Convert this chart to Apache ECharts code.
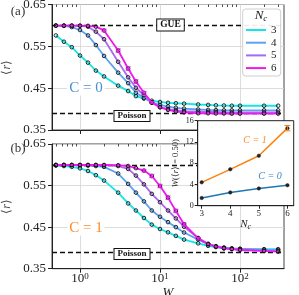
<!DOCTYPE html>
<html><head><meta charset="utf-8">
<script src="https://cdn.jsdelivr.net/npm/echarts@6/dist/echarts.min.js"></script>
<style>html,body{margin:0;padding:0;background:#fff}#c{width:299px;height:295px}</style>
</head><body><div id="c"></div>
<script>
// ---------------- data ----------------
const W = [0.5, 0.63, 0.79, 1, 1.26, 1.58, 2, 3, 4, 5, 6.3, 7.9, 10, 12.6, 15.8, 20, 30, 40, 50, 63, 79, 100, 200, 300];
const NC_NAMES = ['3', '4', '5', '6'];
// panel (a): C = 0
const rA3 = [0.576,0.561,0.548,0.528,0.511,0.492,0.478,0.456,0.443,0.431,0.425,0.420,0.417,0.415,0.414,0.413,0.411,0.410,0.409,0.4085,0.408,0.408,0.408,0.408];
const rA4 = [0.5995,0.599,0.596,0.589,0.576,0.553,0.527,0.487,0.462,0.439,0.427,0.416,0.410,0.406,0.403,0.401,0.399,0.398,0.3975,0.397,0.397,0.397,0.397,0.397];
const rA5 = [0.5995,0.5995,0.5995,0.599,0.597,0.585,0.567,0.513,0.476,0.451,0.433,0.415,0.405,0.400,0.397,0.395,0.394,0.393,0.393,0.392,0.392,0.392,0.392,0.392];
const rA6 = [0.5995,0.5995,0.5995,0.5995,0.599,0.597,0.588,0.540,0.497,0.466,0.439,0.416,0.404,0.398,0.394,0.392,0.390,0.390,0.3895,0.3895,0.389,0.389,0.389,0.389];
const eA6 = [0,0,0,0,0,0,0.003,0.004,0.004,0.004,0.003,0.002,0,0,0,0,0,0,0,0,0,0,0,0];
// panel (b): C = 1
const rB3 = [0.598,0.597,0.595,0.5915,0.585,0.575,0.562,0.533,0.507,0.490,0.472,0.456,0.4455,0.4375,0.429,0.420,0.411,0.405,0.402,0.399,0.398,0.3975,0.397,0.397];
const rB4 = [0.5995,0.5995,0.5995,0.599,0.598,0.597,0.595,0.579,0.554,0.533,0.512,0.490,0.475,0.462,0.450,0.437,0.420,0.409,0.404,0.401,0.399,0.398,0.396,0.395];
const rB5 = [0.5995,0.5995,0.5995,0.5995,0.5995,0.5995,0.599,0.597,0.590,0.574,0.553,0.530,0.510,0.490,0.471,0.451,0.424,0.410,0.404,0.400,0.398,0.396,0.393,0.392];
const rB6 = [0.5995,0.5995,0.5995,0.5995,0.5995,0.5995,0.5995,0.599,0.597,0.592,0.586,0.573,0.549,0.521,0.489,0.457,0.423,0.409,0.403,0.399,0.397,0.395,0.393,0.391];
const eB6 = [0,0,0,0,0,0,0,0,0,0,0.003,0.004,0.004,0.004,0.004,0.003,0.002,0,0,0,0,0,0,0];
// reference levels
const GUE = 0.5996;
const POISSON = 0.3863;
// inset: W(<r> = 0.50) vs Nc
const NC = [3, 4, 5, 6];
const wC1 = [4.4, 6.85, 9.4, 14.6];
const eC1 = [0.15, 0.15, 0.25, 0.5];
const wC0 = [1.45, 2.5, 3.25, 3.85];
// ticks
const R_TICKS = [0.35, 0.45, 0.55, 0.65];
const W_MAJOR = [1, 10, 100];
const W_MINOR = [0.5,0.6,0.7,0.8,0.9,2,3,4,5,6,7,8,9,20,30,40,50,60,70,80,90,200,300];
const NC_TICKS = [3, 4, 5, 6];

// ---------------- chart ----------------
const F = 'Liberation Serif';
const COLORS = ['#14e6e6', '#5ca2f2', '#a96af0', '#f018f0'];
const INK = '#222';
const chart = echarts.init(document.getElementById('c'), null, {renderer: 'canvas'});

const gA = {left: 52, top: 4.5, width: 232, height: 125.5};
const gB = {left: 52, top: 144, width: 232, height: 124.7};
const gI = {left: 197.7, top: 120.7, width: 96, height: 85};

function grid(g, extra) {
  return Object.assign({left: g.left, top: g.top, width: g.width, height: g.height,
    containLabel: false, outerBoundsMode: 'none', show: true,
    borderColor: '#444', borderWidth: 1, backgroundColor: 'transparent'}, extra || {});
}
function xMajor(gi, showLabels) {
  return {type: 'log', logBase: 10, gridIndex: gi, min: 0.447, max: 355,
    axisLine: {show: true, lineStyle: {color: INK, width: 1}},
    axisTick: {show: true, customValues: W_MAJOR, length: 4, inside: false, lineStyle: {color: INK, width: 1}},
    splitLine: {show: true, lineStyle: {color: '#d4d4d4', width: 0.8}},
    minorTick: {show: false}, minorSplitLine: {show: false},
    axisLabel: {show: showLabels, customValues: W_MAJOR, margin: 3,
      formatter: v => '{b|10}{s|' + Math.round(Math.log10(v)) + '}',
      rich: {b: {fontFamily: F, fontSize: 13, color: INK, verticalAlign: 'bottom', lineHeight: 13},
             s: {fontFamily: F, fontSize: 9, color: INK, verticalAlign: 'top', lineHeight: 13}}},
    name: showLabels ? 'W' : '', nameLocation: 'middle', nameGap: 13,
    nameTextStyle: {fontFamily: F, fontSize: 13, fontStyle: 'italic', color: INK}};
}
function xMinor(gi) {
  return {type: 'log', logBase: 10, gridIndex: gi, min: 0.447, max: 355,
    axisLine: {show: false}, splitLine: {show: false}, axisLabel: {show: false},
    axisTick: {show: true, customValues: W_MINOR, length: 2.5, inside: true, lineStyle: {color: INK, width: 0.8}}};
}
function yMain(gi) {
  return {type: 'value', gridIndex: gi, min: 0.35, max: 0.65,
    axisLine: {show: true, lineStyle: {color: INK, width: 1}},
    axisTick: {show: true, customValues: R_TICKS, length: 4, inside: false, lineStyle: {color: INK}},
    splitLine: {show: true, lineStyle: {color: '#d4d4d4', width: 0.8}},
    axisLabel: {customValues: R_TICKS, formatter: v => v.toFixed(2), margin: 6,
      fontFamily: F, fontSize: 13, color: INK},
    name: '⟨{i|r}⟩', nameLocation: 'middle', nameGap: 30, nameRotate: 90,
    nameTextStyle: {fontFamily: F, fontSize: 12, color: '#444', rich: {i: {fontFamily: F, fontSize: 12, fontStyle: 'italic', color: '#444'}}}};
}

const series = [];
function addPanel(vals, xi, yi, withRef) {
  vals.forEach((v, k) => {
    const s = {type: 'line', name: NC_NAMES[k], xAxisIndex: xi, yAxisIndex: yi,
      data: W.map((w, i) => [w, v[i]]), symbol: 'circle', symbolSize: 3.6, showSymbol: true,
      lineStyle: {color: COLORS[k], width: 1.8}, color: COLORS[k],
      itemStyle: {color: 'rgba(255,255,255,0)', borderColor: '#111', borderWidth: 0.9},
      emphasis: {disabled: true}, silent: true, animation: false, z: 3 + k};
    if (k === 0 && withRef) {
      s.markLine = {silent: true, symbol: 'none', animation: false, label: {show: false},
        lineStyle: {color: '#111', type: [5, 3], width: 1.3},
        data: [{yAxis: GUE}, {yAxis: POISSON}]};
    }
    series.push(s);
  });
}
function errSeries(vals, errs, xi, yi, color, capHalf, z) {
  return {type: 'custom', xAxisIndex: xi, yAxisIndex: yi, silent: true, animation: false, z: z,
    data: W.map((w, i) => [w, vals[i], errs[i]]).filter(d => d[2] > 0),
    encode: {x: 0, y: 1},
    renderItem: (p, api) => {
      const x = api.value(0), y = api.value(1), e = api.value(2);
      const a = api.coord([x, y + e]), b = api.coord([x, y - e]);
      const st = {stroke: color, lineWidth: 1};
      return {type: 'group', children: [
        {type: 'line', shape: {x1: a[0], y1: a[1], x2: b[0], y2: b[1]}, style: st},
        {type: 'line', shape: {x1: a[0] - capHalf, y1: a[1], x2: a[0] + capHalf, y2: a[1]}, style: st},
        {type: 'line', shape: {x1: b[0] - capHalf, y1: b[1], x2: b[0] + capHalf, y2: b[1]}, style: st}]};
    }};
}
addPanel([rA3, rA4, rA5, rA6], 0, 0, true);
addPanel([rB3, rB4, rB5, rB6], 2, 1, true);
series.push(errSeries(rA6, eA6, 0, 0, COLORS[3], 2.5, 8));
series.push(errSeries(rB6, eB6, 2, 1, COLORS[3], 2.5, 8));

// inset series
series.push({type: 'line', xAxisIndex: 4, yAxisIndex: 2, data: NC.map((n, i) => [n, wC1[i]]),
  symbol: 'circle', symbolSize: 3.5, lineStyle: {color: '#ff7f0e', width: 1.5},
  itemStyle: {color: '#222', borderColor: '#222', borderWidth: 0.5}, silent: true, animation: false, z: 62});
series.push({type: 'line', xAxisIndex: 4, yAxisIndex: 2, data: NC.map((n, i) => [n, wC0[i]]),
  symbol: 'circle', symbolSize: 3.5, lineStyle: {color: '#1f77b4', width: 1.5},
  itemStyle: {color: '#222', borderColor: '#222', borderWidth: 0.5}, silent: true, animation: false, z: 62});
series.push({type: 'custom', xAxisIndex: 4, yAxisIndex: 2, silent: true, animation: false, z: 63,
  data: NC.map((n, i) => [n, wC1[i], eC1[i]]).filter((d, i) => i === 3), encode: {x: 0, y: 1},
  renderItem: (p, api) => {
    const x = api.value(0), y = api.value(1), e = api.value(2);
    const a = api.coord([x, y + e]), b = api.coord([x, y - e]);
    const st = {stroke: '#ff7f0e', lineWidth: 1};
    return {type: 'group', children: [
      {type: 'line', shape: {x1: a[0], y1: a[1], x2: b[0], y2: b[1]}, style: st},
      {type: 'line', shape: {x1: a[0] - 3, y1: a[1], x2: a[0] + 3, y2: a[1]}, style: st},
      {type: 'line', shape: {x1: b[0] - 3, y1: b[1], x2: b[0] + 3, y2: b[1]}, style: st}]};
  }});

const graphic = [
  {type: 'text', x: 18, y: 12, z: 100, silent: true, style: {text: '(a)', fontFamily: F, fontSize: 13, fill: '#333', align: 'center', verticalAlign: 'middle'}},
  {type: 'text', x: 18, y: 149, z: 100, silent: true, style: {text: '(b)', fontFamily: F, fontSize: 13, fill: '#333', align: 'center', verticalAlign: 'middle'}},
  {type: 'text', x: 170.5, y: 25, z: 20, silent: true, style: {text: 'GUE', fontFamily: F, fontSize: 9.5, fontWeight: 'bold', fill: '#111',
    align: 'center', verticalAlign: 'middle', backgroundColor: '#fff', borderColor: '#111', borderWidth: 1, padding: [1, 3, 0, 3]}},
  {type: 'text', x: 132, y: 116, z: 20, silent: true, style: {text: 'Poisson', fontFamily: F, fontSize: 9, fontWeight: 'bold', fill: '#111',
    align: 'center', verticalAlign: 'middle', backgroundColor: '#fff', borderColor: '#111', borderWidth: 1, padding: [1, 3, 0, 3]}},
  {type: 'text', x: 132, y: 254, z: 20, silent: true, style: {text: 'Poisson', fontFamily: F, fontSize: 9, fontWeight: 'bold', fill: '#111',
    align: 'center', verticalAlign: 'middle', backgroundColor: '#fff', borderColor: '#111', borderWidth: 1, padding: [1, 3, 0, 3]}},
  {type: 'text', x: 86, y: 88, z: 20, silent: true, style: {text: 'C = 0', fontFamily: F, fontSize: 15, fill: '#4a8fd6',
    align: 'center', verticalAlign: 'middle', backgroundColor: '#fff', padding: [0, 2]}},
  {type: 'text', x: 86, y: 228, z: 20, silent: true, style: {text: 'C = 1', fontFamily: F, fontSize: 15, fill: '#ff8c28',
    align: 'center', verticalAlign: 'middle', backgroundColor: '#fff', padding: [0, 2]}},
  // legend frame and title
  {type: 'rect', z: 30, silent: true, shape: {x: 242.7, y: 9, width: 38, height: 67, r: 3},
    style: {fill: 'rgba(255,255,255,0.92)', stroke: '#cfcfcf', lineWidth: 1}},
  {type: 'text', x: 261, y: 16, z: 31, silent: true, style: {text: '{i|N}{s|c}', align: 'center', verticalAlign: 'middle',
    rich: {i: {fontFamily: F, fontSize: 13, fontStyle: 'italic', fill: '#222'}, s: {fontFamily: F, fontSize: 9, fontStyle: 'italic', fill: '#222', padding: [6, 0, 0, 0]}}}},
  // inset annotations
  {type: 'text', x: 255, y: 140, z: 100, silent: true, style: {text: 'C = 1', fontFamily: F, fontSize: 10, fontStyle: 'italic', fill: '#ff8c28', align: 'center', verticalAlign: 'middle'}},
  {type: 'text', x: 270, y: 176, z: 100, silent: true, style: {text: 'C = 0', fontFamily: F, fontSize: 10, fontStyle: 'italic', fill: '#3a86c8', align: 'center', verticalAlign: 'middle'}}
];

chart.setOption({
  animation: false,
  backgroundColor: '#fff',
  grid: [grid(gA), grid(gB), grid(gI, {backgroundColor: '#fff', borderColor: '#222', z: 50})],
  xAxis: [xMajor(0, false), xMinor(0), xMajor(1, true), xMinor(1),
    {type: 'value', gridIndex: 2, min: 2.86, max: 6.22, z: 55,
      axisLine: {show: true, lineStyle: {color: INK}},
      axisTick: {show: true, customValues: NC_TICKS, length: 3, lineStyle: {color: INK}},
      splitLine: {show: false},
      axisLabel: {customValues: NC_TICKS, fontFamily: F, fontSize: 9, color: INK, margin: 3},
      name: '{i|N}{s|c}', nameLocation: 'middle', nameGap: 2,
      nameTextStyle: {rich: {i: {fontFamily: F, fontSize: 11, fontStyle: 'italic', color: INK}, s: {fontFamily: F, fontSize: 8, fontStyle: 'italic', color: INK, padding: [5, 0, 0, 0]}}}}],
  yAxis: [yMain(0), yMain(1),
    {type: 'value', gridIndex: 2, min: 0, max: 16, interval: 4, z: 55,
      axisLine: {show: true, lineStyle: {color: INK}},
      axisTick: {show: true, length: 3, lineStyle: {color: INK}},
      splitLine: {show: false},
      axisLabel: {fontFamily: F, fontSize: 8, color: INK, margin: 4},
      name: '{i|W}(⟨{i|r}⟩ = 0.50)', nameLocation: 'middle', nameGap: 17, nameRotate: 90,
      nameTextStyle: {fontFamily: F, fontSize: 8.5, color: INK, rich: {i: {fontFamily: F, fontSize: 8.5, fontStyle: 'italic', color: INK}}}}],
  legend: {show: true, orient: 'vertical', left: 246, top: 24, itemWidth: 20, itemHeight: 2, itemGap: 0.7,
    icon: 'rect', selectedMode: false, z: 35, padding: 0,
    itemStyle: {borderWidth: 0},
    textStyle: {fontFamily: F, fontSize: 11, color: '#222', lineHeight: 12},
    data: NC_NAMES.map((n, k) => ({name: n, itemStyle: {color: COLORS[k], borderColor: COLORS[k], borderWidth: 0}}))},
  graphic: graphic,
  series: series
});
</script>
</body></html>
